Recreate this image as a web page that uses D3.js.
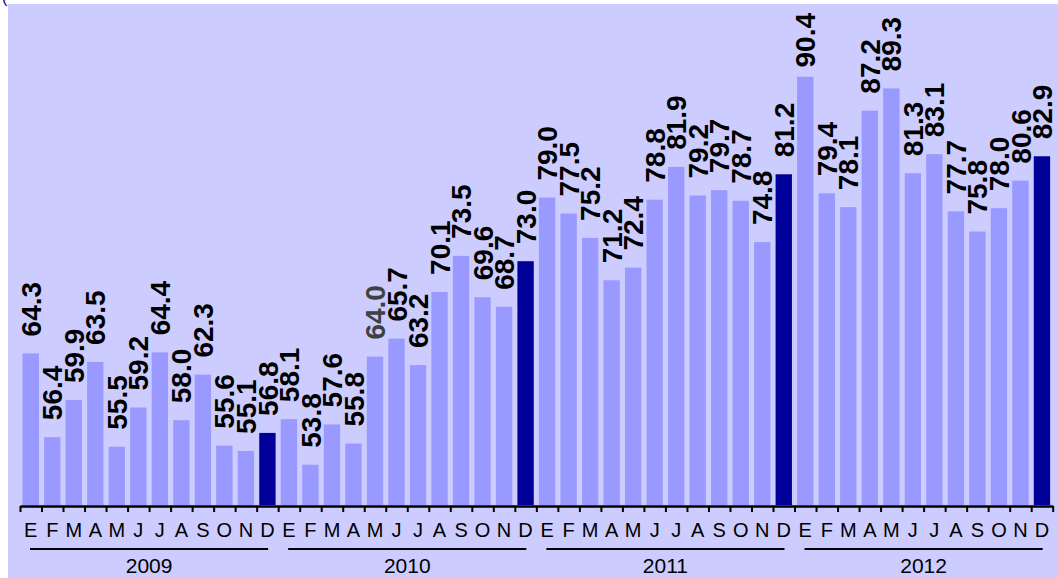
<!DOCTYPE html>
<html>
<head>
<meta charset="utf-8">
<script src="https://cdn.jsdelivr.net/npm/d3@7"></script>
<style>
body { margin: 0; background: #fff; }
svg { display: block; }
</style>
</head>
<body>
<svg id="chart" width="1058" height="578"></svg>
<script>
// data
var years = ["2009", "2010", "2011", "2012"];
var months = ["E", "F", "M", "A", "M", "J", "J", "A", "S", "O", "N", "D"];
var values2009 = [64.3, 56.4, 59.9, 63.5, 55.5, 59.2, 64.4, 58.0, 62.3, 55.6, 55.1, 56.8];
var values2010 = [58.1, 53.8, 57.6, 55.8, 64.0, 65.7, 63.2, 70.1, 73.5, 69.6, 68.7, 73.0];
var values2011 = [79.0, 77.5, 75.2, 71.2, 72.4, 78.8, 81.9, 79.2, 79.7, 78.7, 74.8, 81.2];
var values2012 = [90.4, 79.4, 78.1, 87.2, 89.3, 81.3, 83.1, 77.7, 75.8, 78.0, 80.6, 82.9];
var series = [values2009, values2010, values2011, values2012];
var greyLabels = ["2010-4"]; // this one label is printed grey in the original

var data = [];
years.forEach(function(yr, yi) {
	months.forEach(function(m, mi) {
		data.push({key: yr + "-" + mi, year: yr, month: m, mi: mi, value: series[yi][mi]});
	});
});

var svg = d3.select("#chart");

// tiny bit of a cut off title in the corner
svg.append("text")
	.attr("x", 2)
	.attr("y", 3)
	.style("font-family", "Liberation Sans, Arial, sans-serif")
	.style("font-size", "16px")
	.style("fill", "#000080")
	.text("(");

//plot background
svg.append("rect")
	.attr("x", 8)
	.attr("y", 4)
	.attr("width", 1050)
	.attr("height", 574)
	.style("fill", "#CCCCFF");

var left = 20, right = 1052.7;
var pad = 0.24;

var x = d3.scaleBand()
	.domain(data.map(function(d) { return d.key; }))
	.range([left, right])
	.paddingInner(pad)
	.paddingOuter(pad / 2);

var y = d3.scaleLinear()
	.domain([50, 100])
	.range([505, -25]);

// bars
svg.append("g").selectAll("rect")
	.data(data)
	.enter().append("rect")
	.attr("x", function(d) { return x(d.key); })
	.attr("y", function(d) { return y(d.value); })
	.attr("width", x.bandwidth())
	.attr("height", function(d) { return y(50) - y(d.value); })
	.style("fill", function(d) { return d.mi === 11 ? "#000099" : "#9999FF"; });

// value labels, turned on their side
var labels = svg.append("g").selectAll("text")
	.data(data)
	.enter().append("text")
	.attr("dy", "0.36em")
	.attr("text-anchor", "start")
	.style("font-family", "Liberation Sans, Arial, sans-serif")
	.style("font-weight", "bold")
	.style("font-size", "28px")
	.style("fill", function(d) { return greyLabels.indexOf(d.key) >= 0 ? "#404040" : "#000"; })
	.text(function(d) { return d.value.toFixed(1); });

// keep the tallest label from running off the top (the original pushes it down)
labels.attr("transform", function(d) {
	var len = this.getComputedTextLength();
	var base = Math.max(y(d.value) - 17, 13 + len);
	return "translate(" + (x(d.key) + x.bandwidth() / 2) + "," + base + ") rotate(-90)";
});

// axis line + ticks at the band edges
var edge = d3.scaleLinear().domain([0, data.length]).range([left, right]);
var edgeAxis = d3.axisBottom(edge)
	.tickValues(d3.range(data.length + 1))
	.tickFormat("")
	.tickSize(6)
	.tickSizeOuter(0);

var gEdge = svg.append("g")
	.attr("transform", "translate(0,506)")
	.call(edgeAxis);
gEdge.select(".domain").style("stroke", "#000").style("stroke-width", 2.5);
gEdge.selectAll(".tick line").style("stroke", "#000").style("stroke-width", 2);

// month letters
var monthAxis = d3.axisBottom(x)
	.tickSize(0)
	.tickPadding(17)
	.tickFormat(function(k) { return months[+k.split("-")[1]]; });

var gMonth = svg.append("g")
	.attr("transform", "translate(0,506)")
	.call(monthAxis);
gMonth.select(".domain").remove();
gMonth.selectAll("text")
	.style("font-family", "Liberation Sans, Arial, sans-serif")
	.style("font-size", "20px")
	.style("fill", "#000");

// year groups
var step = x.step();
years.forEach(function(yr) {
	var x0 = x(yr + "-0") - step * pad / 2;
	var x1 = x(yr + "-11") + x.bandwidth() + step * pad / 2;

	svg.append("line")
		.attr("x1", x0 + 10)
		.attr("x2", x1 - 10)
		.attr("y1", 549)
		.attr("y2", 549)
		.style("stroke", "#000")
		.style("stroke-width", 2);

	svg.append("text")
		.attr("x", (x0 + x1) / 2)
		.attr("y", 573)
		.attr("text-anchor", "middle")
		.style("font-family", "Liberation Sans, Arial, sans-serif")
		.style("font-size", "21px")
		.style("fill", "#000")
		.text(yr);
});
</script>
</body>
</html>
